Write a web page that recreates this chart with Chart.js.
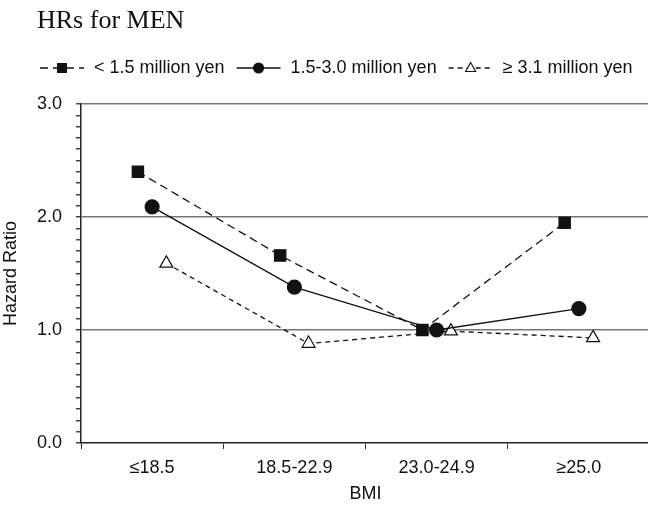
<!DOCTYPE html>
<html>
<head>
<meta charset="utf-8">
<script src="https://cdn.jsdelivr.net/npm/chart.js@4.4.1/dist/chart.umd.min.js"></script>
<style>
  html, body { margin: 0; padding: 0; background: #fff; overflow: hidden; }
  canvas { display: block; }
</style>
</head>
<body>
<canvas id="c" width="660" height="505"></canvas>
<script>
// BMI groups on the x axis
const cats = ['≤18.5', '18.5-22.9', '23.0-24.9', '≥25.0'];
// hazard ratios per income group
const low = [2.40, 1.66, 1.00, 1.95];
const mid = [2.09, 1.38, 1.00, 1.19];
const high = [1.59, 0.88, 0.99, 0.93];
const names = ['< 1.5 million yen', '1.5-3.0 million yen', '≥ 3.1 million yen'];
const yMajor = [0, 1, 2, 3];
// small horizontal shift of each series inside its group
const shift = [-0.1, 0, 0.1];

const FONT = '"Liberation Sans", Arial, sans-serif';

function pts(vals, k) {
    return vals.map((v, i) => ({ x: i + shift[k], y: v }));
}

function isMajor(v) {
    return yMajor.some(m => Math.abs(m - v) < 1e-6);
}

const sets = [
    { label: names[0], data: pts(low, 0), borderDash: [8, 5], pointStyle: 'rect', pointRadius: 8, pointBackgroundColor: '#111' },
    { label: names[1], data: pts(mid, 1), borderDash: [], pointStyle: 'circle', pointRadius: 7, pointBackgroundColor: '#111' },
    { label: names[2], data: pts(high, 2), borderDash: [5, 4], pointStyle: 'triangle', pointRadius: 7.5, pointBackgroundColor: '#fff' }
].map(d => Object.assign({
    borderColor: '#111', borderWidth: 1.3, pointBorderColor: '#111', pointBorderWidth: 1.2,
    pointHoverRadius: 7, fill: false, tension: 0, xAxisID: 'x', yAxisID: 'y'
}, d));

// draws title and the legend row above the plot
const topText = {
    id: 'topText',
    afterDraw(chart) {
        const ctx = chart.ctx;
        ctx.save();
        ctx.fillStyle = '#111';
        ctx.font = '26px "Liberation Serif", "Times New Roman", serif';
        ctx.textBaseline = 'alphabetic';
        ctx.textAlign = 'left';
        ctx.fillText('HRs for MEN', 37, 28);

        ctx.font = '18px ' + FONT;
        ctx.textBaseline = 'middle';
        let x = 40;
        const y = 68;
        sets.forEach((d, i) => {
            ctx.strokeStyle = '#111';
            ctx.lineWidth = 1.3;
            ctx.setLineDash(d.borderDash);
            ctx.beginPath();
            ctx.moveTo(x, y);
            ctx.lineTo(x + 44, y);
            ctx.stroke();
            ctx.setLineDash([]);
            const cx = x + 22;
            ctx.fillStyle = d.pointBackgroundColor;
            ctx.lineWidth = 1.1;
            ctx.beginPath();
            if (d.pointStyle === 'rect') {
                ctx.rect(cx - 4.5, y - 4.5, 9, 9);
            } else if (d.pointStyle === 'circle') {
                ctx.arc(cx, y, 5, 0, Math.PI * 2);
            } else {
                ctx.moveTo(cx, y - 5.5);
                ctx.lineTo(cx + 5, y + 3.5);
                ctx.lineTo(cx - 5, y + 3.5);
                ctx.closePath();
            }
            ctx.fill();
            ctx.stroke();
            ctx.fillStyle = '#111';
            ctx.fillText(d.label, x + 54, y);
            x += 54 + ctx.measureText(d.label).width + 12;
        });
        ctx.restore();
    }
};

new Chart(document.getElementById('c'), {
    type: 'line',
    data: { labels: cats, datasets: sets },
    plugins: [topText],
    options: {
        responsive: false,
        animation: false,
        layout: { padding: { top: 104, right: 10, left: 0, bottom: 0 } },
        plugins: { legend: { display: false }, tooltip: { enabled: false } },
        scales: {
            x: { type: 'linear', display: false, min: -0.5, max: 3.5 },
            xc: {
                type: 'category',
                position: 'bottom',
                offset: true,
                afterFit(s) { s.height = 62; },
                grid: { offset: true, drawOnChartArea: false, tickLength: 6, color: '#333', lineWidth: 1 },
                border: { color: '#222', width: 1.5 },
                ticks: { color: '#111', font: { family: FONT, size: 18 }, padding: 8 },
                title: { display: true, text: 'BMI', color: '#111', font: { family: FONT, size: 18 }, padding: { top: 2, bottom: 0 } }
            },
            y: {
                min: 0,
                max: 3,
                afterFit(s) { s.width = 81; },
                afterBuildTicks(s) {
                    s.ticks = Array.from({ length: 31 }, (_, i) => ({ value: i / 10 }));
                },
                grid: {
                    color: c => (c.tick && isMajor(c.tick.value) && c.tick.value > 0) ? '#777' : 'rgba(0,0,0,0)',
                    tickColor: '#444',
                    lineWidth: 1.5,
                    tickLength: 5
                },
                border: { color: '#222', width: 1.5 },
                ticks: {
                    autoSkip: false,
                    color: '#111',
                    padding: 14,
                    font: { family: FONT, size: 18 },
                    callback: v => isMajor(v) ? v.toFixed(1) : ''
                },
                title: { display: true, text: 'Hazard Ratio', color: '#111', font: { family: FONT, size: 18 }, padding: { top: 0, bottom: 4 } }
            }
        }
    }
});
</script>
</body>
</html>
